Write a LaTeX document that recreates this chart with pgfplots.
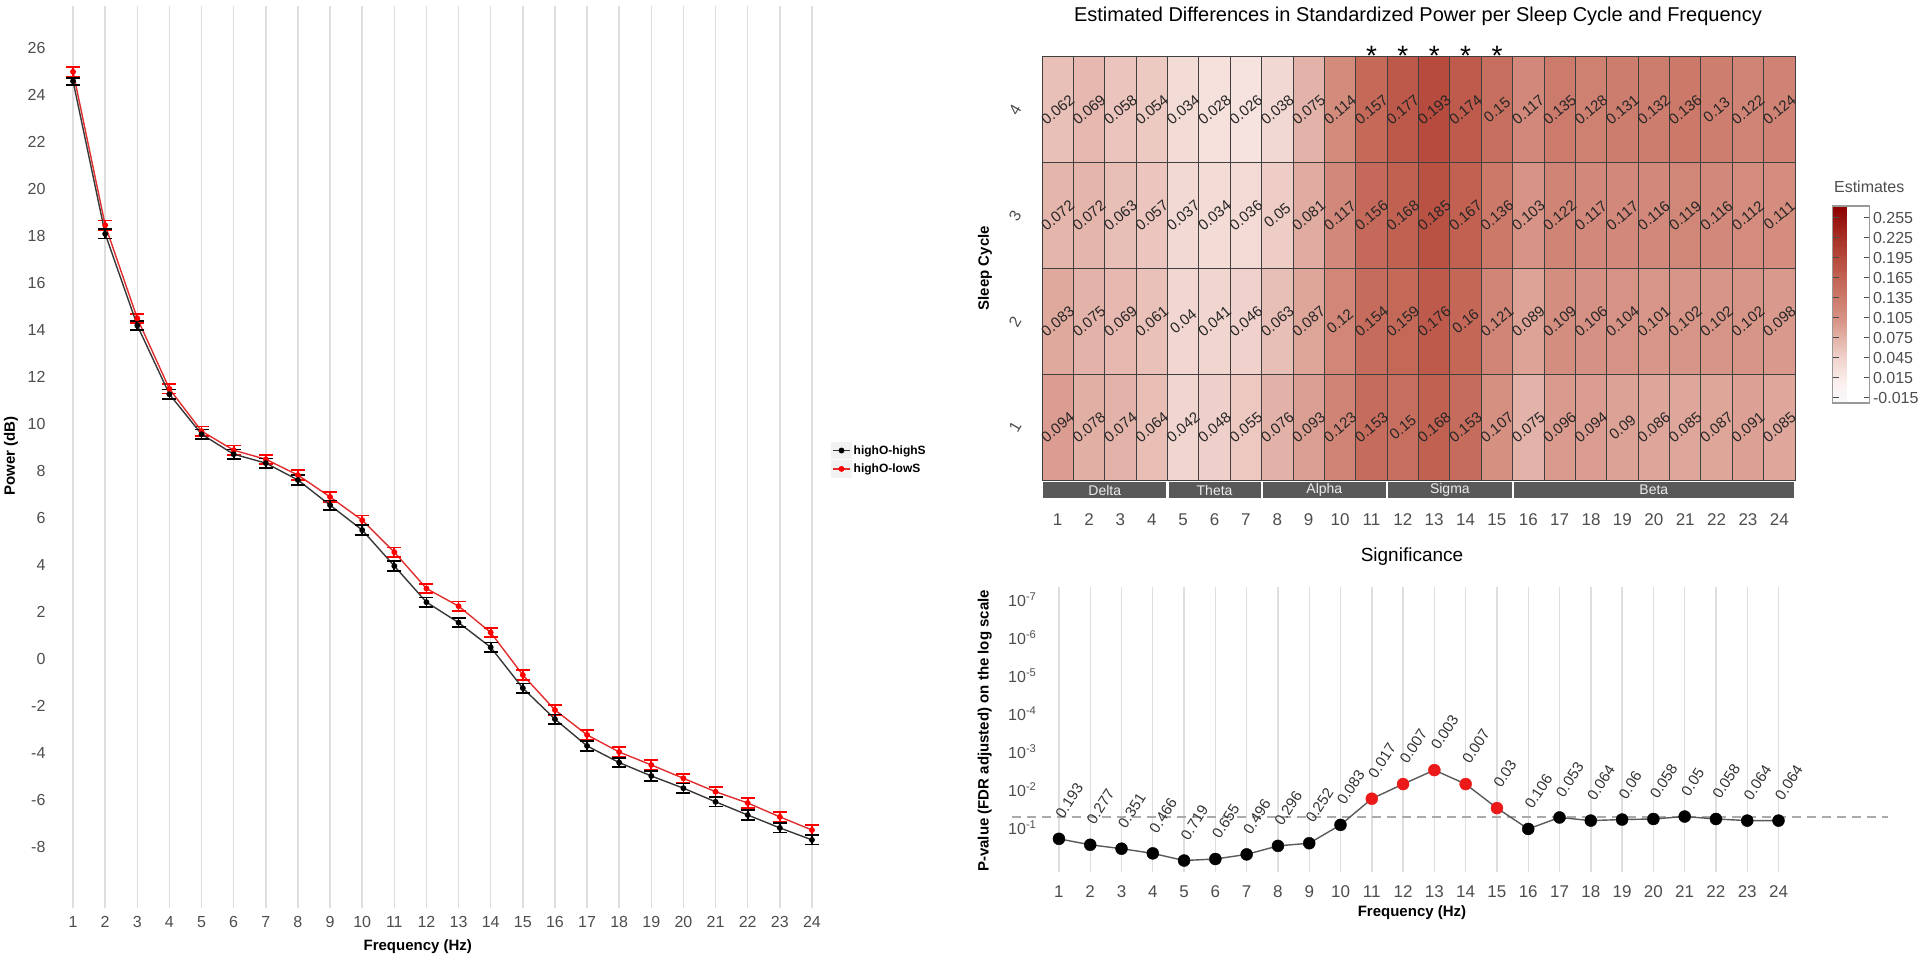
\documentclass[border=0pt]{standalone}
\usepackage{fontspec}
\setmainfont{Liberation Sans}
\usepackage{pgfplots}
\pgfplotsset{compat=1.18}
\usepackage{pgfplotstable}

\definecolor{tickgray}{RGB}{77,77,77}
\definecolor{gridgray}{RGB}{222,222,222}
\definecolor{stripgray}{RGB}{89,89,89}
\definecolor{lineblack}{RGB}{55,55,55}
\definecolor{linered}{RGB}{225,45,45}
\definecolor{dotred}{RGB}{235,25,25}
\definecolor{dashgray}{RGB}{170,170,170}

\newcommand{\fs}[1]{\fontsize{#1}{#1}\selectfont}

% power spectrum, mean and error per group
\pgfplotstableread{
x  b      be    r      re
1  24.60  0.15  25.00  0.20
2  18.10  0.20  18.47  0.20
3  14.20  0.20  14.50  0.20
4  11.27  0.20  11.50  0.20
5  9.57   0.20  9.70   0.20
6  8.72   0.20  8.89   0.20
7  8.34   0.20  8.50   0.20
8  7.62   0.20  7.83   0.20
9  6.55   0.20  6.90   0.20
10 5.49   0.20  5.91   0.20
11 3.96   0.20  4.55   0.20
12 2.42   0.20  3.00   0.20
13 1.55   0.20  2.25   0.20
14 0.50   0.20  1.13   0.20
15 -1.24  0.20  -0.68  0.20
16 -2.56  0.20  -2.17  0.20
17 -3.70  0.20  -3.23  0.20
18 -4.41  0.20  -3.96  0.20
19 -4.98  0.20  -4.51  0.20
20 -5.50  0.20  -5.08  0.20
21 -6.08  0.20  -5.65  0.20
22 -6.64  0.20  -6.13  0.20
23 -7.19  0.20  -6.72  0.20
24 -7.70  0.20  -7.28  0.20
}\powertab

% estimates per frequency (x) and sleep cycle (y)
\pgfplotstableread{
x y z
1 1 0.094
2 1 0.078
3 1 0.074
4 1 0.064
5 1 0.042
6 1 0.048
7 1 0.055
8 1 0.076
9 1 0.093
10 1 0.123
11 1 0.153
12 1 0.15
13 1 0.168
14 1 0.153
15 1 0.107
16 1 0.075
17 1 0.096
18 1 0.094
19 1 0.09
20 1 0.086
21 1 0.085
22 1 0.087
23 1 0.091
24 1 0.085
1 2 0.083
2 2 0.075
3 2 0.069
4 2 0.061
5 2 0.04
6 2 0.041
7 2 0.046
8 2 0.063
9 2 0.087
10 2 0.12
11 2 0.154
12 2 0.159
13 2 0.176
14 2 0.16
15 2 0.121
16 2 0.089
17 2 0.109
18 2 0.106
19 2 0.104
20 2 0.101
21 2 0.102
22 2 0.102
23 2 0.102
24 2 0.098
1 3 0.072
2 3 0.072
3 3 0.063
4 3 0.057
5 3 0.037
6 3 0.034
7 3 0.036
8 3 0.05
9 3 0.081
10 3 0.117
11 3 0.156
12 3 0.168
13 3 0.185
14 3 0.167
15 3 0.136
16 3 0.103
17 3 0.122
18 3 0.117
19 3 0.117
20 3 0.116
21 3 0.119
22 3 0.116
23 3 0.112
24 3 0.111
1 4 0.062
2 4 0.069
3 4 0.058
4 4 0.054
5 4 0.034
6 4 0.028
7 4 0.026
8 4 0.038
9 4 0.075
10 4 0.114
11 4 0.157
12 4 0.177
13 4 0.193
14 4 0.174
15 4 0.15
16 4 0.117
17 4 0.135
18 4 0.128
19 4 0.131
20 4 0.132
21 4 0.136
22 4 0.13
23 4 0.122
24 4 0.124
}\heattab

% FDR adjusted p-values, s = significant
\pgfplotstableread{
x  p      c
1  0.193  n
2  0.277  n
3  0.351  n
4  0.466  n
5  0.719  n
6  0.655  n
7  0.496  n
8  0.296  n
9  0.252  n
10 0.083  n
11 0.017  s
12 0.007  s
13 0.003  s
14 0.007  s
15 0.03   s
16 0.106  n
17 0.053  n
18 0.064  n
19 0.06   n
20 0.058  n
21 0.05   n
22 0.058  n
23 0.064  n
24 0.064  n
}\sigtab

\begin{document}
\begin{tikzpicture}
\useasboundingbox (0,0) rectangle (1920pt,959pt);

% ---------- left: power spectrum ----------
\begin{axis}[
  name=power, at={(57pt,51pt)}, anchor=south west,
  scale only axis, width=771pt, height=902pt,
  xmin=0.5, xmax=24.5, ymin=-10.6, ymax=27.8,
  xtick={1,...,24}, ytick={-8,-6,...,26},
  axis line style={draw=none}, major tick length=0pt,
  xmajorgrids=true, grid style={gridgray, line width=1.6pt},
  ticklabel style={font=\fs{16}, text=tickgray},
  xticklabel style={yshift=-5pt},
  yticklabel style={xshift=-8pt},
  /pgf/number format/assume math mode=true,
  xlabel={Frequency (Hz)}, ylabel={Power (dB)},
  label style={font=\bfseries\fs{15}},
  xlabel style={at={(axis description cs:0.468,-0.0432)}, anchor=center},
  ylabel style={at={(axis description cs:-0.0597,0.501)}, anchor=center},
  legend style={at={(axis description cs:1.004,0.497)}, anchor=west, draw=none, fill=none,
    font=\bfseries\fs{12}, row sep=1pt, inner sep=0pt},
  legend cell align=left, reverse legend,
  legend image code/.code={
    \fill[gray!10] (0pt,-8pt) rectangle (19pt,8pt);
    \draw[mark repeat=2, mark phase=2, #1] plot coordinates {(1pt,0pt) (9.5pt,0pt) (18pt,0pt)};
  },
]
\addplot[linered, line width=1.4pt, mark=*, mark size=2.2pt, mark options={fill=red, draw=red},
  error bars/.cd, y dir=both, y explicit,
  error bar style={red, line width=1.8pt},
  error mark options={red, line width=1.8pt, mark size=7pt, rotate=90}]
  table[x=x, y=r, y error=re] {\powertab};
\addlegendentry{highO-lowS}
\addplot[lineblack, line width=1.4pt, mark=*, mark size=2.2pt, mark options={fill=black, draw=black},
  error bars/.cd, y dir=both, y explicit,
  error bar style={black, line width=1.8pt},
  error mark options={black, line width=1.8pt, mark size=7pt, rotate=90}]
  table[x=x, y=b, y error=be] {\powertab};
\addlegendentry{highO-highS}
\end{axis}

% ---------- top right: heat map ----------
\begin{axis}[
  name=heat, at={(1042pt,479pt)}, anchor=south west,
  scale only axis, width=753pt, height=423pt,
  xmin=0.5, xmax=24.5, ymin=0.5, ymax=4.5, clip=false,
  xtick={1,...,24}, ytick={1,2,3,4},
  axis line style={draw=none}, major tick length=0pt,
  xticklabel style={font=\fs{17}, text=tickgray, yshift=-30pt},
  yticklabel style={font=\fs{16}, text=tickgray, anchor=center, xshift=-27pt, rotate=60},
  /pgf/number format/assume math mode=true,
  title={Estimated Differences in Standardized Power per Sleep Cycle and Frequency},
  title style={at={(axis description cs:0.4993,1.083)}, anchor=center, font=\fs{20}},
  ylabel={Sleep Cycle},
  ylabel style={at={(axis description cs:-0.0757,0.501)}, anchor=center, font=\bfseries\fs{15}},
  colormap={estimates}{rgb255(0pt)=(248,248,253); rgb255(10pt)=(251,241,239);
    rgb255(23pt)=(240,210,204); rgb255(43pt)=(214,146,132); rgb255(64pt)=(194,98,82);
    rgb255(84pt)=(168,48,37); rgb255(100pt)=(139,0,0)},
  point meta min=-0.0225, point meta max=0.2725,
  colorbar,
  colorbar style={
    at={(parent axis.north east)}, anchor=north west, xshift=29pt, yshift=-149pt,
    scale only axis, width=37pt, height=197pt,
    ytick={-0.015,0.015,0.045,0.075,0.105,0.135,0.165,0.195,0.225,0.255},
    major tick length=6pt, tick style={black!70, line width=1pt},
    axis line style={draw=gray!80, line width=1.2pt},
    yticklabel style={font=\fs{16}, text=tickgray, /pgf/number format/.cd, fixed, fixed zerofill, precision=3, assume math mode=true},
    title={Estimates}, title style={at={(0,1)}, anchor=south west, xshift=-2pt, yshift=4pt, font=\fs{16}, text=tickgray},
  },
]
% one rectangle per cell: 31.375pt wide, 105.75pt high
\addplot[scatter, only marks, mark=square*, mark size=15.69pt, point meta=explicit,
  mark options={yscale=3.3705, line width=1pt},
  scatter/use mapped color={draw=black!75, fill=mapped color}]
  table[x=x, y=y, meta=z] {\heattab};
\addplot[only marks, mark=none, point meta=explicit symbolic, nodes near coords, nodes near coords align={center},
  every node near coord/.append style={rotate=40, font=\fs{15}, text=black!85, inner sep=0pt}]
  table[x=x, y=y, meta=z] {\heattab};
% frequency band strips
\fill[stripgray] (axis cs:0.535,0.481) rectangle (axis cs:4.465,0.330);
\fill[stripgray] (axis cs:4.535,0.481) rectangle (axis cs:7.465,0.330);
\fill[stripgray] (axis cs:7.535,0.481) rectangle (axis cs:11.465,0.330);
\fill[stripgray] (axis cs:11.535,0.481) rectangle (axis cs:15.465,0.330);
\fill[stripgray] (axis cs:15.535,0.481) rectangle (axis cs:24.465,0.330);
\node[font=\fs{14}, text=gray!15] at (axis cs:2.5,0.405) {Delta};
\node[font=\fs{14}, text=gray!15] at (axis cs:6,0.405) {Theta};
\node[font=\fs{14}, text=gray!15] at (axis cs:9.5,0.405) {Alpha};
\node[font=\fs{14}, text=gray!15] at (axis cs:13.5,0.405) {Sigma};
\node[font=\fs{14}, text=gray!15] at (axis cs:20,0.405) {Beta};
% significant frequencies
\node[anchor=base, font=\fs{28}, inner sep=0pt, yshift=-9pt] at (axis cs:11,4.5) {*};
\node[anchor=base, font=\fs{28}, inner sep=0pt, yshift=-9pt] at (axis cs:12,4.5) {*};
\node[anchor=base, font=\fs{28}, inner sep=0pt, yshift=-9pt] at (axis cs:13,4.5) {*};
\node[anchor=base, font=\fs{28}, inner sep=0pt, yshift=-9pt] at (axis cs:14,4.5) {*};
\node[anchor=base, font=\fs{28}, inner sep=0pt, yshift=-9pt] at (axis cs:15,4.5) {*};
\end{axis}

% ---------- bottom right: significance ----------
\begin{axis}[
  name=sig, at={(1012pt,87pt)}, anchor=south west,
  scale only axis, width=876pt, height=285pt,
  xmin=-0.5, xmax=27.5, ymode=log, y dir=reverse, ymin=4.57e-8, ymax=1.44, clip=false,
  xtick={1,...,24}, ytick={1e-7,1e-6,1e-5,1e-4,1e-3,1e-2,1e-1},
  yticklabels={10\textsuperscript{-7},10\textsuperscript{-6},10\textsuperscript{-5},10\textsuperscript{-4},10\textsuperscript{-3},10\textsuperscript{-2},10\textsuperscript{-1}},
  axis line style={draw=none}, major tick length=0pt, minor tick length=0pt,
  yminorticks=false, ytick pos=left,
  xmajorgrids=true, grid style={gridgray, line width=1.4pt},
  xticklabel style={font=\fs{17}, text=tickgray, yshift=-10pt},
  yticklabel style={font=\fs{16}, text=tickgray, xshift=28pt},
  /pgf/number format/assume math mode=true,
  title={Significance},
  title style={at={(axis description cs:0.4566,1.084)}, anchor=center, font=\fs{19}},
  xlabel={Frequency (Hz)},
  xlabel style={at={(axis description cs:0.4566,-0.144)}, anchor=center, font=\bfseries\fs{15}},
  ylabel={P-value (FDR adjusted) on the log scale},
  ylabel style={at={(axis description cs:-0.031,0.495)}, anchor=center, font=\bfseries\fs{15}},
]
\addplot[dashgray, line width=2pt, dash pattern=on 9pt off 6pt] coordinates {(-0.5,0.05) (27.5,0.05)};
\addplot[black!65, line width=1.4pt, mark=none] table[x=x, y=p] {\sigtab};
\addplot[scatter, only marks, scatter src=explicit symbolic,
  scatter/classes={n={mark=*, black, mark size=6pt}, s={mark=*, dotred, mark size=6pt}}]
  table[x=x, y=p, meta=c] {\sigtab};
\addplot[only marks, mark=none, point meta=explicit symbolic, nodes near coords,
  every node near coord/.append style={yshift=22pt, rotate=57, anchor=west, font=\fs{15}, text=black!80, inner sep=0pt}]
  table[x=x, y=p, meta=p] {\sigtab};
\end{axis}
\end{tikzpicture}
\end{document}
